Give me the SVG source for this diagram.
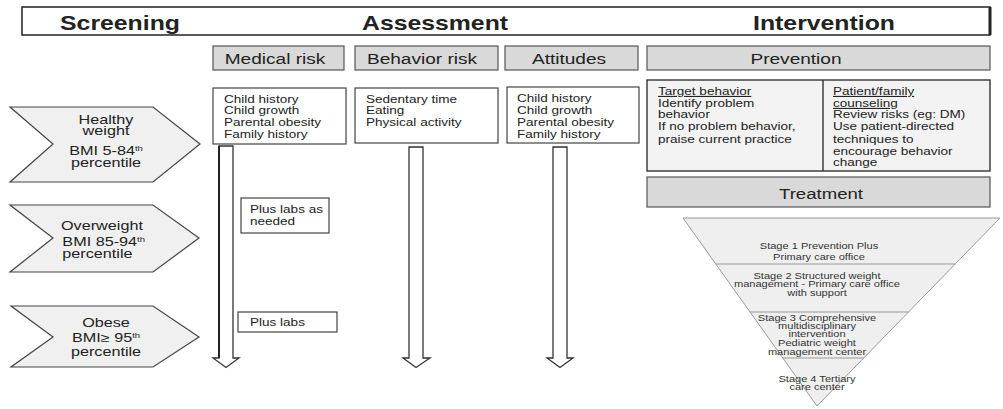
<svg xmlns="http://www.w3.org/2000/svg" width="1003" height="409" viewBox="0 0 1003 409">
<style>
.t{font-family:"Liberation Sans",Arial,sans-serif;fill:#222}
.title{font-size:20px;font-weight:bold;text-anchor:middle}
.hdr{font-size:15.5px;text-anchor:middle}
.body{font-size:11px}
.chev{font-size:12px}
.mid{text-anchor:middle}
.stage{font-size:8.5px;text-anchor:middle;fill:#333}
.sup{font-size:7px}
.hbox{fill:#d9d9d9;stroke:#555;stroke-width:1.2}
.box{fill:#fff;stroke:#444;stroke-width:1.2}
.tbl{fill:#f3f3f3;stroke:#333;stroke-width:1.4}
.chevron{fill:#f0f0f0;stroke:#444;stroke-width:1.2}
.arrow{fill:#fff;stroke:#333;stroke-width:1.3}
.pyr{fill:#efefef;stroke:#999;stroke-width:1}
.u{text-decoration:underline}
</style>
<rect width="1003" height="409" fill="#fff"/>

<g id="titlebar">
<rect x="22" y="7" width="968" height="28" fill="#fff" stroke="#222" stroke-width="1.5"/>
<line x1="990" y1="7" x2="990" y2="35" stroke="#222" stroke-width="3"/>
<text class="t title" transform="translate(120,30) scale(1.24,1)">Screening</text>
<text class="t title" transform="translate(435,30) scale(1.24,1)">Assessment</text>
<text class="t title" transform="translate(824,30) scale(1.24,1)">Intervention</text>
</g>

<g id="hdr-medical">
<rect class="hbox" x="213" y="46" width="131" height="24"/>
<text class="t hdr" transform="translate(275,64) scale(1.23,1)">Medical risk</text>
</g>
<g id="hdr-behavior">
<rect class="hbox" x="355" y="46" width="143" height="24"/>
<text class="t hdr" transform="translate(422,64) scale(1.23,1)">Behavior risk</text>
</g>
<g id="hdr-attitudes">
<rect class="hbox" x="505" y="46" width="133" height="24"/>
<text class="t hdr" transform="translate(569,64) scale(1.23,1)">Attitudes</text>
</g>
<g id="hdr-prevention">
<rect class="hbox" x="647" y="46" width="343" height="24"/>
<text class="t hdr" transform="translate(796,64) scale(1.23,1)">Prevention</text>
</g>

<g id="chev-healthy">
<polygon class="chevron" points="10,107 153,107 200,144 153,182 10,182 53,144"/>
<text class="t chev mid" transform="translate(106,123.5) scale(1.35,1)"><tspan x="0" y="0">Healthy</tspan><tspan x="0" y="12">weight</tspan><tspan x="0" y="32">BMI 5-84<tspan class="sup" dy="-4.5">th</tspan></tspan><tspan x="0" y="44">percentile</tspan></text>
</g>
<g id="chev-overweight">
<polygon class="chevron" points="10,205 153,205 199,238 153,272 10,272 53,238"/>
<text class="t chev" transform="translate(61,229.5) scale(1.35,1)"><tspan x="0" y="0">Overweight</tspan><tspan x="1" y="17">BMI 85-94<tspan class="sup" dy="-4.5">th</tspan></tspan><tspan x="1" y="29">percentile</tspan></text>
</g>
<g id="chev-obese">
<polygon class="chevron" points="11,306 153,306 199,337 153,367 11,367 53,337"/>
<text class="t chev mid" transform="translate(106,326.5) scale(1.35,1)"><tspan x="0" y="0">Obese</tspan><tspan x="0" y="16">BMI≥ 95<tspan class="sup" dy="-4.5">th</tspan></tspan><tspan x="0" y="30">percentile</tspan></text>
</g>

<g id="box-medical">
<rect class="box" x="213" y="88" width="133" height="56"/>
<text class="t body" transform="translate(224,102.5) scale(1.23,1)"><tspan x="0" y="0">Child history</tspan><tspan x="0" y="12">Child growth</tspan><tspan x="0" y="24">Parental obesity</tspan><tspan x="0" y="36">Family history</tspan></text>
</g>
<g id="box-behavior">
<rect class="box" x="355" y="88" width="143" height="55"/>
<text class="t body" transform="translate(366,102.5) scale(1.23,1)"><tspan x="0" y="0">Sedentary time</tspan><tspan x="0" y="12">Eating</tspan><tspan x="0" y="24">Physical activity</tspan></text>
</g>
<g id="box-attitudes">
<rect class="box" x="507" y="87" width="132" height="56"/>
<text class="t body" transform="translate(517,102) scale(1.23,1)"><tspan x="0" y="0">Child history</tspan><tspan x="0" y="12">Child growth</tspan><tspan x="0" y="24">Parental obesity</tspan><tspan x="0" y="36">Family history</tspan></text>
</g>

<g id="connectors">
<polygon class="arrow" points="219,146 233,146 233,358 239,358 226,367.5 213,358 219,358"/>
<line x1="219" y1="146" x2="219" y2="358" stroke="#222" stroke-width="2"/>
<polygon class="arrow" points="409,147 423,147 423,358 430,358 416,367.5 403,358 409,358"/>
<polygon class="arrow" points="553,147 567,147 567,358 573,358 560,367.5 547,358 553,358"/>
</g>

<g id="labs-needed">
<rect class="box" x="241" y="198" width="88" height="35"/>
<text class="t body" transform="translate(250,212.5) scale(1.23,1)"><tspan x="0" y="0">Plus labs as</tspan><tspan x="0" y="12.5">needed</tspan></text>
</g>
<g id="labs">
<rect class="box" x="238" y="312" width="99" height="20"/>
<text class="t body" transform="translate(250,326) scale(1.23,1)">Plus labs</text>
</g>

<g id="prevention-table">
<rect class="tbl" x="647" y="80" width="343" height="91"/>
<line x1="823" y1="80" x2="823" y2="171" stroke="#333" stroke-width="1.4"/>
<text class="t body" transform="translate(658,95) scale(1.23,1)"><tspan x="0" y="0" class="u">Target behavior</tspan><tspan x="0" y="12">Identify problem</tspan><tspan x="0" y="23.5">behavior</tspan><tspan x="0" y="35.5">If no problem behavior,</tspan><tspan x="0" y="48">praise current practice</tspan></text>
<text class="t body" transform="translate(833,95) scale(1.23,1)"><tspan x="0" y="0" class="u">Patient/family</tspan><tspan x="0" y="12" class="u">counseling</tspan><tspan x="0" y="23.5">Review risks (eg: DM)</tspan><tspan x="0" y="35.5">Use patient-directed</tspan><tspan x="0" y="48">techniques to</tspan><tspan x="0" y="60">encourage behavior</tspan><tspan x="0" y="71.5">change</tspan></text>
</g>

<g id="treatment">
<rect class="hbox" x="647" y="177" width="343" height="30"/>
<text class="t hdr" transform="translate(821,199) scale(1.2,1)">Treatment</text>
</g>

<g id="pyramid">
<polygon class="pyr" points="683,218 1000,218 817,406"/>
<line x1="715.8" y1="264" x2="955.2" y2="264" stroke="#999" stroke-width="1"/>
<line x1="750" y1="312" x2="908.5" y2="312" stroke="#999" stroke-width="1"/>
<line x1="782.8" y1="358" x2="863.7" y2="358" stroke="#999" stroke-width="1"/>
<text class="t stage" transform="translate(819,249) scale(1.3,1)"><tspan x="0" y="0">Stage 1 Prevention Plus</tspan><tspan x="0" y="11">Primary care office</tspan></text>
<text class="t stage" transform="translate(817,278.5) scale(1.3,1)"><tspan x="0" y="0">Stage 2 Structured weight</tspan><tspan x="0" y="9">management - Primary care office</tspan><tspan x="0" y="17.5">with support</tspan></text>
<text class="t stage" transform="translate(817,320.5) scale(1.3,1)"><tspan x="0" y="0">Stage 3 Comprehensive</tspan><tspan x="0" y="8.5">multidisciplinary</tspan><tspan x="0" y="16.5">intervention</tspan><tspan x="0" y="26">Pediatric weight</tspan><tspan x="0" y="35">management center</tspan></text>
<text class="t stage" transform="translate(817,381.5) scale(1.3,1)"><tspan x="0" y="0">Stage 4 Tertiary</tspan><tspan x="0" y="9">care center</tspan></text>
</g>
</svg>
